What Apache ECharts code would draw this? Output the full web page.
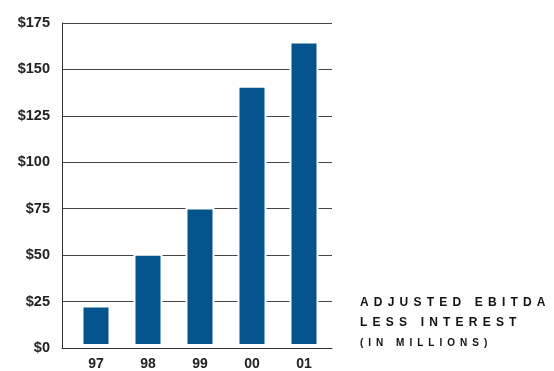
<!DOCTYPE html>
<html>
<head>
<meta charset="utf-8">
<script src="https://cdn.jsdelivr.net/npm/echarts@6/dist/echarts.min.js"></script>
<style>
  html, body { margin: 0; padding: 0; background: #fff; }
  #wrap { position: relative; width: 554px; height: 371px; }
  #chart { width: 554px; height: 371px; }
  .cap { position: absolute; left: 360px; font-family: "Liberation Sans", Arial, sans-serif;
         font-weight: bold; color: #111; white-space: nowrap; line-height: 1; }
</style>
</head>
<body>
<div id="wrap">
  <div id="chart"></div>
  <div class="cap" style="top:296px;font-size:12px;letter-spacing:5.2px;">ADJUSTED EBITDA</div>
  <div class="cap" style="top:316px;font-size:12px;letter-spacing:5.2px;">LESS INTEREST</div>
  <div class="cap" style="top:338px;font-size:10px;letter-spacing:5px;">(IN MILLIONS)</div>
</div>
<script>
var years = ['97', '98', '99', '00', '01'];
var ebitda = [22, 50, 75, 141, 165];
var yMin = 0, yMax = 175, yStep = 25;

var myChart = echarts.init(document.getElementById('chart'));

var labelFont = {
  fontFamily: 'Liberation Sans',
  fontWeight: 'bold',
  fontSize: 14,
  color: '#222'
};

var option = {
  animation: false,
  grid: [
    // frame + gridlines
    { left: 62, right: 222, top: 23, bottom: 23 },
    // bars
    { left: 70, right: 224, top: 23, bottom: 22 }
  ],
  xAxis: [
    {
      gridIndex: 0,
      type: 'category',
      data: years,
      z: 5,
      axisLine: { lineStyle: { color: '#333', width: 1 } },
      axisTick: { show: false },
      axisLabel: { show: false }
    },
    {
      gridIndex: 1,
      type: 'category',
      data: years,
      axisLine: { show: false },
      axisTick: { show: false },
      axisLabel: Object.assign({ margin: 11 }, labelFont)
    }
  ],
  yAxis: [
    {
      gridIndex: 0,
      type: 'value',
      min: yMin,
      max: yMax,
      interval: yStep,
      axisLine: { show: true, lineStyle: { color: '#333', width: 1 } },
      axisTick: { show: false },
      axisLabel: Object.assign({}, labelFont, {
        fontSize: 14.5,
        margin: 12,
        formatter: function (v) { return '$' + v; }
      }),
      splitLine: { lineStyle: { color: '#444', width: 1 } }
    },
    {
      gridIndex: 1,
      type: 'value',
      min: yMin,
      max: yMax,
      interval: yStep,
      show: false,
      splitLine: { show: false }
    }
  ],
  series: [{
    type: 'bar',
    xAxisIndex: 1,
    yAxisIndex: 1,
    data: ebitda,
    barWidth: 29,
    itemStyle: {
      color: '#03538c',
      borderColor: '#fff',
      borderWidth: 2
    }
  }]
};

myChart.setOption(option);
</script>
</body>
</html>
